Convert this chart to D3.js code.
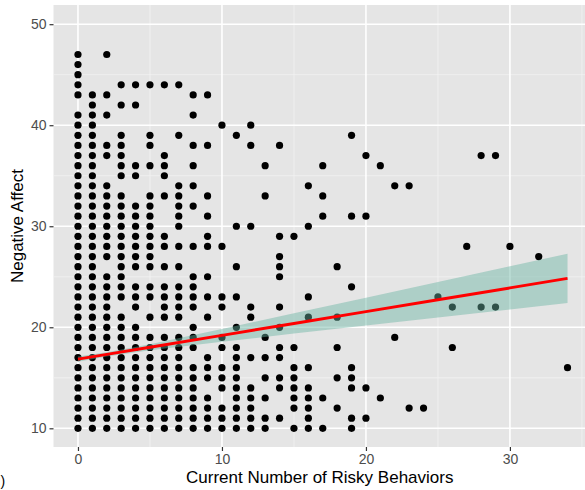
<!DOCTYPE html>
<html lang="en">
<head>
<meta charset="utf-8">
<title>Negative Affect vs Risky Behaviors</title>
<script src="https://cdn.jsdelivr.net/npm/d3@7"></script>
<style>
  body { margin: 0; background: #fff; }
  svg { display: block; font-family: "Liberation Sans", Arial, Helvetica, sans-serif; }
</style>
</head>
<body>
<div id="chart"></div>
<script>
// x = current number of risky behaviors, y = negative affect scores seen at that x
var riskCounts = [0, 1, 2, 3, 4, 5, 6, 7, 8, 9, 10, 11, 12, 13, 14, 15, 16, 17, 18, 19, 20, 21, 22, 23, 24, 25, 26, 27, 28, 29, 30, 32, 34];
var affectScores = [
  [10,11,12,13,14,15,16,17,18,19,20,21,22,23,24,25,26,27,28,29,30,31,32,33,34,35,36,37,38,39,40,41,43,44,45,46,47],
  [10,11,12,13,14,15,16,17,18,19,20,21,22,23,24,25,26,27,28,29,30,31,32,33,34,35,36,37,38,39,40,41,42,43],
  [10,11,12,13,14,15,16,17,18,19,20,21,22,23,24,25,27,28,29,30,31,32,33,34,37,38,41,43,47],
  [10,11,12,13,14,15,16,17,18,19,20,21,23,24,25,26,27,28,29,30,31,32,33,35,36,37,38,39,42,44],
  [10,11,12,13,14,15,16,17,18,19,20,22,23,24,26,27,28,29,30,31,32,35,36,42,44],
  [10,11,12,13,14,15,16,17,18,19,21,23,24,26,27,28,29,30,31,32,33,36,38,39,44],
  [10,11,12,13,14,15,16,17,18,19,21,22,23,24,26,28,29,33,35,36,37,44],
  [10,11,12,13,14,15,16,17,18,19,21,22,23,24,26,28,30,31,32,33,34,39,44],
  [10,11,12,13,14,15,16,18,19,20,22,23,24,25,28,32,34,36,38,41,43],
  [10,11,12,13,15,16,17,21,23,25,28,29,31,33,38,43],
  [10,11,12,14,15,16,18,19,22,23,28,40],
  [10,11,12,13,14,15,16,17,18,20,23,26,30,39],
  [10,11,12,13,14,17,21,22,30,38,40],
  [10,11,13,15,17,19,33,36],
  [11,14,15,17,18,20,22,25,26,27,29,38],
  [10,12,13,14,15,16,18,29],
  [10,11,12,13,14,16,21,23,30,34],
  [10,13,31,33,36],
  [12,15,18,21,26],
  [10,11,14,15,16,24,31,39],
  [11,14,31,37],
  [13,36],
  [19,34],
  [12,34],
  [12],
  [23],
  [18,22],
  [28],
  [22,37],
  [22,37],
  [28],
  [27],
  [16]
];

// linear fit and its confidence band
var fitX = [0, 2, 5, 10, 15, 20, 25, 30, 34];
var fitY = [16.85, 17.32, 18.03, 19.2, 20.38, 21.55, 22.73, 23.9, 24.84];
var fitLo = [16.6, 17.12, 17.73, 18.56, 19.38, 20.17, 20.97, 21.76, 22.4];
var fitHi = [17.1, 17.52, 18.33, 19.84, 21.38, 22.93, 24.49, 26.04, 27.28];

var xTicks = [0, 10, 20, 30];
var xMinor = [5, 15, 25, 35];
var yTicks = [10, 20, 30, 40, 50];
var yMinor = [15, 25, 35, 45];

var width = 585, height = 490;
var panel = {left: 53.5, right: 592, top: 5, bottom: 447};

var svg = d3.select("#chart").append("svg")
    .attr("width", width)
    .attr("height", height);

var x = d3.scaleLinear().domain([-1.7, 35.7]).range([panel.left, panel.right]);
var y = d3.scaleLinear().domain([8.15, 51.9]).range([panel.bottom, panel.top]);

// panel + grid
svg.append("rect")
    .attr("x", panel.left).attr("y", panel.top)
    .attr("width", panel.right - panel.left)
    .attr("height", panel.bottom - panel.top)
    .attr("fill", "#e5e5e5");

var grid = svg.append("g");
grid.selectAll(".vminor").data(xMinor).enter().append("line")
    .attr("x1", d => x(d)).attr("x2", d => x(d))
    .attr("y1", panel.top).attr("y2", panel.bottom)
    .attr("stroke", "#f2f2f2").attr("stroke-width", 0.8);
grid.selectAll(".hminor").data(yMinor).enter().append("line")
    .attr("y1", d => y(d)).attr("y2", d => y(d))
    .attr("x1", panel.left).attr("x2", panel.right)
    .attr("stroke", "#f2f2f2").attr("stroke-width", 0.8);
grid.selectAll(".vmajor").data(xTicks).enter().append("line")
    .attr("x1", d => x(d)).attr("x2", d => x(d))
    .attr("y1", panel.top).attr("y2", panel.bottom)
    .attr("stroke", "#fff").attr("stroke-width", 1.6);
grid.selectAll(".hmajor").data(yTicks).enter().append("line")
    .attr("y1", d => y(d)).attr("y2", d => y(d))
    .attr("x1", panel.left).attr("x2", panel.right)
    .attr("stroke", "#fff").attr("stroke-width", 1.6);

// points
var pts = [];
riskCounts.forEach(function(c, i) {
    affectScores[i].forEach(function(v) { pts.push([c, v]); });
});
svg.append("g").selectAll("circle").data(pts).enter().append("circle")
    .attr("cx", d => x(d[0]))
    .attr("cy", d => y(d[1]))
    .attr("r", 3.6)
    .attr("fill", "#000");

// confidence band then fit line
var band = fitX.map((v, i) => [v, fitLo[i], fitHi[i]]);
svg.append("path")
    .datum(band)
    .attr("d", d3.area().x(d => x(d[0])).y0(d => y(d[1])).y1(d => y(d[2])))
    .attr("fill", "#69b3a2")
    .attr("opacity", 0.45);

svg.append("path")
    .datum(fitX.map((v, i) => [v, fitY[i]]))
    .attr("d", d3.line().x(d => x(d[0])).y(d => y(d[1])))
    .attr("fill", "none")
    .attr("stroke", "#ff0000")
    .attr("stroke-width", 3);

// axes
var xAxis = svg.append("g")
    .attr("transform", "translate(0," + panel.bottom + ")")
    .call(d3.axisBottom(x).tickValues(xTicks).tickSize(4).tickPadding(3));
var yAxis = svg.append("g")
    .attr("transform", "translate(" + panel.left + ",0)")
    .call(d3.axisLeft(y).tickValues(yTicks).tickSize(4).tickPadding(3));
[xAxis, yAxis].forEach(function(a) {
    a.select(".domain").remove();
    a.selectAll(".tick line").attr("stroke", "#333").attr("stroke-width", 1.2);
    a.selectAll(".tick text")
        .attr("fill", "#4d4d4d")
        .style("font-size", "14px")
        .style("font-family", "Liberation Sans, Arial, sans-serif");
});

svg.append("text")
    .attr("x", (panel.left + panel.right) / 2 - 3)
    .attr("y", 483)
    .attr("text-anchor", "middle")
    .style("font-size", "17px")
    .text("Current Number of Risky Behaviors");

svg.append("text")
    .attr("transform", "translate(23," + ((panel.top + panel.bottom) / 2) + ") rotate(-90)")
    .attr("text-anchor", "middle")
    .style("font-size", "17px")
    .text("Negative Affect");

// small caption mark at the lower left edge
svg.append("text")
    .attr("x", 0.5).attr("y", 486)
    .style("font-size", "14px")
    .text(")");
</script>
</body>
</html>
